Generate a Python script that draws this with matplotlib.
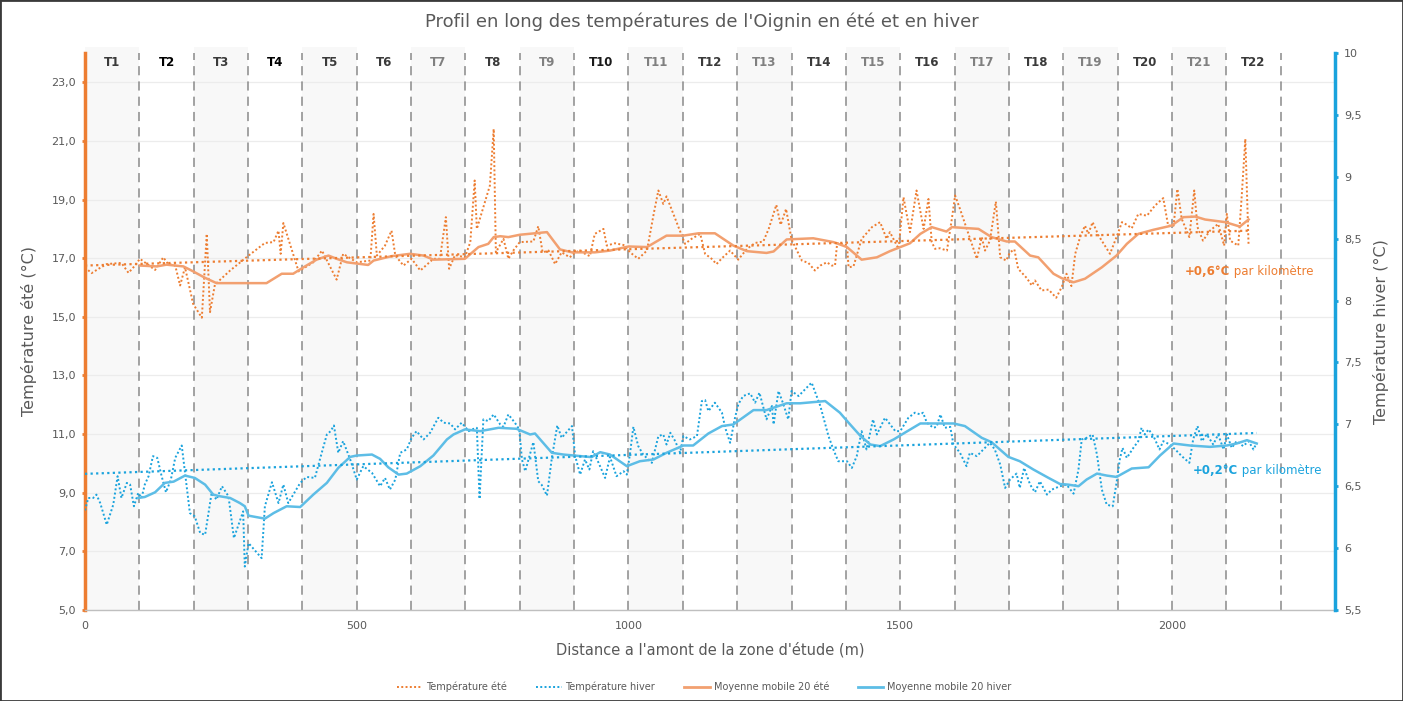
import numpy as np
import matplotlib
matplotlib.use("Agg")
import matplotlib.pyplot as plt
from matplotlib.lines import Line2D
from matplotlib.patches import Rectangle

# ---------------- DATA ----------------
# Summer temperature (°C, left axis)
summer_x = [0, 12, 25, 40, 67, 80, 92, 101, 129, 144, 153, 166, 175, 184, 199, 215, 224, 230, 239,
            267, 301, 331, 347, 356, 360, 365, 393, 420, 436, 463, 475, 500, 525, 531, 537, 552, 564,
            571, 586, 601, 617, 641, 653, 664, 670, 681, 699, 709, 717, 721, 745, 752, 756,
            770, 779, 788, 800, 825, 834, 842, 853, 865, 877, 892, 902, 911, 920, 929, 938, 954,
            960, 975, 991, 1003, 1018, 1034, 1047, 1055, 1064, 1070, 1098, 1104, 1116, 1132, 1141,
            1153, 1162, 1172, 1187, 1202, 1218, 1233, 1248, 1258, 1272, 1280, 1290, 1300, 1319,
            1331, 1343, 1353, 1365, 1374, 1380, 1384, 1402, 1405, 1414, 1429, 1448, 1463, 1475,
            1481, 1497, 1506, 1518, 1530,
            1543, 1552, 1558, 1564, 1573, 1586, 1595, 1601, 1610, 1641, 1650, 1656, 1665, 1676,
            1684, 1695, 1702, 1710, 1717, 1733, 1742, 1748, 1760, 1773, 1787, 1797, 1806, 1815,
            1822, 1831, 1840, 1846, 1854, 1865, 1886, 1898, 1908, 1917, 1926, 1938, 1954, 1969,
            1984, 1993, 2003, 2010, 2018, 2032, 2041, 2047, 2057, 2070, 2085, 2096, 2101, 2107,
            2122, 2128, 2135, 2141]
summer_t = [16.69, 16.49, 16.64, 16.80, 16.84, 16.50, 16.75, 16.98, 16.60, 17.03, 16.80, 16.75, 16.07,
            16.69, 15.44, 14.97, 17.83, 15.16, 16.10, 16.58, 17.09, 17.52, 17.55, 17.94, 17.15,
            18.20, 16.55, 16.86, 17.26, 16.27, 17.15, 16.86, 16.92, 18.51, 17.09, 17.43, 17.94,
            17.09, 16.75, 16.98, 16.58, 16.98, 16.98, 18.40, 16.64, 17.11, 17.03, 17.55, 19.65,
            18.00, 19.48, 21.41, 17.20,
            17.66, 16.98, 17.26, 17.55, 17.57, 18.09, 17.20, 17.26, 16.80, 17.20, 17.03, 17.20,
            17.26, 17.15, 17.07, 17.83, 18.00, 17.43, 17.51, 17.45, 17.20, 16.98, 17.26, 18.57,
            19.31, 18.85, 19.11, 17.77, 17.49, 17.66, 17.83, 17.15, 16.98, 16.80, 17.00, 17.26,
            16.95, 17.32, 17.52, 17.57, 18.00, 18.82, 18.14, 18.68, 17.64, 16.92, 16.84, 16.58,
            16.75, 16.86, 16.75, 16.75, 17.52, 17.45, 16.69, 16.72, 17.66, 18.06, 18.23, 17.66,
            17.89, 17.32, 19.08, 17.89, 19.31,
            18.00, 19.02, 17.55, 17.32, 17.34, 17.26, 18.34, 19.14, 18.68, 16.98, 17.72, 17.26,
            17.60, 18.93, 17.03, 16.92, 17.20, 17.30, 16.64, 16.32, 16.07, 16.24, 15.90, 15.93,
            15.65, 16.01, 16.47, 16.05, 17.15, 17.72, 18.11, 17.83, 18.23, 17.77, 17.15, 17.72,
            18.23, 18.14, 18.02, 18.51, 18.45, 18.80, 19.05, 18.11, 18.11, 19.36, 18.34, 17.72,
            19.31, 18.06, 17.60, 17.94, 18.17, 17.43, 18.51, 17.60, 17.43, 19.02, 21.07, 17.43]

# Summer moving average (20)
summer_ma_x = [101, 132, 150, 181, 196, 221, 242, 334, 362, 383, 402, 426, 448, 463, 482, 521, 531,
               564, 598, 623, 641, 699, 724, 742, 752, 764, 779, 800, 850, 874, 896, 938, 966, 1000,
               1034, 1070, 1101, 1129, 1159, 1193, 1218, 1254, 1267, 1291, 1340, 1377, 1402, 1429,
               1457, 1481, 1518, 1537, 1558, 1585, 1595, 1644, 1668, 1696, 1711, 1739, 1754, 1782,
               1797, 1819, 1840, 1871, 1898, 1917, 1938, 1966, 1999, 2021, 2043, 2061, 2098, 2125,
               2141]
summer_ma_t = [16.75, 16.72, 16.78, 16.72, 16.58, 16.33, 16.15, 16.15, 16.47, 16.47, 16.69, 16.95,
               17.09, 16.98, 16.86, 16.77, 16.92, 17.07, 17.15, 17.09, 16.95, 16.98, 17.38, 17.49,
               17.72, 17.75, 17.72, 17.80, 17.89, 17.30, 17.20, 17.20, 17.26, 17.40, 17.38, 17.77,
               17.77, 17.85, 17.85, 17.43, 17.24, 17.18, 17.23, 17.64, 17.68, 17.55, 17.38, 16.95,
               17.03, 17.24, 17.51, 17.83, 18.06, 17.91, 18.06, 18.00, 17.72, 17.57, 17.57, 17.09,
               17.03, 16.47, 16.32, 16.18, 16.30, 16.69, 17.09, 17.49, 17.83, 17.97, 18.11, 18.40,
               18.42, 18.32, 18.23, 18.08, 18.32]

# Summer linear trend (start / end)
summer_trend_x = [0, 2141]
summer_trend_t = [16.75, 17.94]

# Winter temperature (°C, right axis)
winter_x = [0, 6, 15, 21, 28, 40, 52, 60, 67, 77, 83, 90, 98, 104, 110, 117, 125, 133, 141, 149, 158,
            166, 178, 184, 193, 202, 212, 221, 233, 242, 252, 264, 274, 291, 294, 301, 325, 331, 344,
            356, 365, 374, 396, 408, 423, 433, 445, 452, 458, 466, 475, 488, 500, 512, 528, 543, 552,
            561, 571, 580, 592, 601, 610, 623, 635, 650, 660, 672, 681, 693, 706, 712, 721, 726, 733,
            742, 752, 764,
            770, 779, 791, 799, 804, 810, 816, 825, 834, 840, 850, 859, 869, 877, 896, 902, 911, 920,
            928, 935, 945, 957, 966, 978, 991, 997, 1003, 1009, 1018, 1027, 1043, 1055, 1064, 1070,
            1077, 1086, 1095, 1101, 1113, 1126, 1135, 1141, 1147, 1159, 1172, 1178, 1187, 1196, 1202,
            1211, 1224, 1233, 1241, 1254, 1264, 1267, 1276, 1284, 1294, 1300, 1313, 1337, 1353, 1368,
            1377, 1386, 1402, 1411, 1420, 1429, 1438, 1450, 1457, 1472, 1491, 1500, 1515, 1527, 1537,
            1542, 1549, 1561, 1567, 1574, 1582, 1592, 1598, 1610, 1622, 1628, 1641, 1656, 1665, 1674,
            1684, 1693, 1702, 1714, 1720, 1728, 1739, 1748, 1757, 1770, 1779, 1794, 1806, 1819, 1828,
            1834, 1843, 1854, 1862, 1871, 1880, 1891, 1898, 1904, 1909, 1917, 1929, 1938, 1944, 1950,
            1957, 1966, 1977, 1984, 1996, 2006, 2018, 2032, 2039, 2047, 2055, 2064, 2076, 2085, 2095,
            2101, 2110, 2119, 2131, 2141, 2150, 2156]
winter_t = [6.305, 6.405, 6.405, 6.432, 6.364, 6.189, 6.351, 6.581, 6.405, 6.527, 6.513, 6.338, 6.446,
            6.405, 6.513, 6.581, 6.743, 6.729, 6.581, 6.451, 6.554, 6.729, 6.829, 6.608, 6.283,
            6.256, 6.121, 6.108, 6.446, 6.392, 6.500, 6.419, 6.081, 6.297, 5.851, 6.040, 5.919,
            6.338, 6.532, 6.364, 6.513, 6.364, 6.527, 6.575, 6.567, 6.729, 6.918, 6.945, 6.991,
            6.770, 6.864, 6.716, 6.554, 6.662, 6.608, 6.500, 6.567, 6.473, 6.554, 6.770, 6.797,
            6.891, 6.945, 6.878, 6.932, 7.053, 7.013, 7.007, 6.959, 7.013, 6.945, 6.959, 6.972,
            6.397, 7.040, 7.026, 7.080, 6.999,
            6.980, 7.080, 7.013, 6.959, 6.716, 6.621, 6.716, 6.856, 6.540, 6.513, 6.424, 6.729,
            6.991, 6.891, 6.986, 6.743, 6.594, 6.716, 6.635, 6.783, 6.689, 6.567, 6.737, 6.581,
            6.621, 6.594, 6.770, 6.980, 6.824, 6.756, 6.689, 6.905, 6.918, 6.837, 6.932, 6.864,
            6.770, 6.905, 6.878, 6.905, 7.188, 7.196, 7.107, 7.175, 7.094, 6.972, 6.851, 7.053,
            7.161, 7.229, 7.250, 7.175, 7.256, 7.040, 7.148, 6.999, 7.269, 7.175, 7.040, 7.269,
            7.229, 7.337, 7.148, 6.905, 6.797, 6.702, 6.702, 6.648, 6.743, 6.945, 6.797, 7.040,
            6.918, 7.053, 6.945, 6.945, 7.053, 7.094, 7.080,
            7.094, 7.013, 6.972, 6.980, 7.080, 6.972, 6.980, 6.837, 6.770, 6.662, 6.770, 6.743,
            6.810, 6.851, 6.797, 6.675, 6.486, 6.554, 6.602, 6.486, 6.648, 6.513, 6.451, 6.540,
            6.432, 6.473, 6.500, 6.513, 6.440, 6.635, 6.878, 6.891, 6.918, 6.756, 6.473, 6.351,
            6.338, 6.527, 6.716, 6.810, 6.729, 6.810, 6.864, 6.972, 6.918, 6.959, 6.905, 6.797,
            6.864, 6.837, 6.797, 6.743, 6.689, 6.878, 6.986, 6.864, 6.918, 6.837, 6.918, 6.797,
            6.918, 6.810, 6.864, 6.824, 6.864, 6.797, 6.851]

# Winter moving average (20)
winter_ma_x = [98, 110, 129, 147, 163, 184, 202, 221, 236, 248, 267, 285, 294, 301, 331, 347, 371, 396,
               420, 445, 466, 488, 500, 528, 543, 558, 577, 592, 617, 641, 666, 678, 699, 727, 761,
               794, 819, 828, 859, 880, 932, 948, 966, 997, 1021, 1046, 1070, 1101, 1119, 1147, 1172,
               1193, 1230, 1254, 1291, 1316, 1362, 1389, 1405, 1426, 1445, 1463, 1488, 1506, 1537,
               1598, 1619, 1650, 1668, 1699, 1720, 1745, 1773, 1794, 1809, 1828, 1843, 1862, 1880,
               1898, 1926, 1957, 1978, 2003, 2033, 2070, 2101, 2119, 2138, 2156]
winter_ma_t = [6.405, 6.413, 6.451, 6.527, 6.537, 6.586, 6.567, 6.513, 6.432, 6.419, 6.405, 6.364,
               6.338, 6.262, 6.238, 6.283, 6.338, 6.332, 6.432, 6.527, 6.648, 6.737, 6.748, 6.756,
               6.721, 6.653, 6.594, 6.602, 6.662, 6.748, 6.878, 6.918, 6.959, 6.945, 6.972,
               6.964, 6.918, 6.926, 6.770, 6.756, 6.735, 6.775, 6.756, 6.662, 6.702, 6.716, 6.770,
               6.829, 6.829, 6.926, 6.986, 6.999, 7.115, 7.115, 7.170, 7.170, 7.188, 7.094, 7.013,
               6.910, 6.837, 6.824, 6.878, 6.926, 7.007, 7.007, 6.986, 6.891, 6.856, 6.737, 6.702,
               6.635, 6.567, 6.518, 6.513, 6.500, 6.554, 6.602, 6.586, 6.575, 6.643, 6.653, 6.748,
               6.845, 6.829, 6.818, 6.829, 6.845, 6.872, 6.845]

# Winter linear trend (start / end)
winter_trend_x = [0, 2156]
winter_trend_t = [6.60, 6.93]

# Sections
section_labels = [f"T{i}" for i in range(1, 23)]
section_starts = list(range(0, 2200, 100))
section_colors = ["#3a3a3a", "#000000", "#3a3a3a", "#000000", "#3a3a3a", "#3a3a3a", "#808080",
                  "#3a3a3a", "#808080", "#1a1a1a", "#808080", "#3a3a3a", "#808080", "#3a3a3a",
                  "#808080", "#3a3a3a", "#808080", "#3a3a3a", "#808080", "#3a3a3a", "#808080",
                  "#3a3a3a"]

left_ticks = [5, 7, 9, 11, 13, 15, 17, 19, 21, 23]
right_ticks = [5.5, 6, 6.5, 7, 7.5, 8, 8.5, 9, 9.5, 10]
x_ticks = [0, 500, 1000, 1500, 2000]

# ---------------- STYLE ----------------
ORANGE = "#ED7D31"
ORANGE_MA = "#F2A070"
BLUE = "#1AA3DD"
BLUE_MA = "#5DBDE6"
GRAY_TXT = "#595959"

plt.rcParams['font.family'] = ['DejaVu Sans']

fig = plt.figure(figsize=(14.03, 7.01), dpi=100)
ax = fig.add_axes([85 / 1403, 1 - 610 / 701, (1335 - 85) / 1403, (610 - 53) / 701])
ax2 = ax.twinx()

ax.set_xlim(0, 2300)
ax.set_ylim(5, 24)
ax2.set_ylim(5.5, 10)

# Bands, dashed separators, section labels
for i, (s, lab, col) in enumerate(zip(section_starts, section_labels, section_colors)):
    if i % 2 == 0:
        ax.axvspan(s, s + 100, ymin=0, ymax=1.01, color="#f8f8f8", zorder=0, lw=0, clip_on=False)
    ax.axvline(s + 100, color="#8a8a8a", lw=1.1, ls=(0, (6, 4)), zorder=1)
    ax.text(s + 50, 0.983, lab, transform=ax.get_xaxis_transform(), ha="center", va="center",
            fontsize=8.5, fontweight="bold", color=col, zorder=3)

# Grid
for v in left_ticks:
    ax.axhline(v, color="#ececec", lw=0.9, zorder=0.5)

# Summer
ax.plot(summer_x, summer_t, color=ORANGE, lw=1.4, ls=(0, (1, 1.2)), zorder=4)
ax.plot(summer_ma_x, summer_ma_t, color=ORANGE_MA, lw=1.8, zorder=4)
ax.plot(summer_trend_x, summer_trend_t, color=ORANGE, lw=1.6, ls=(0, (1, 1.5)), zorder=4)

# Winter
ax2.plot(winter_x, winter_t, color=BLUE, lw=1.4, ls=(0, (1, 1.2)), zorder=4)
ax2.plot(winter_ma_x, winter_ma_t, color=BLUE_MA, lw=1.8, zorder=4)
ax2.plot(winter_trend_x, winter_trend_t, color=BLUE, lw=1.6, ls=(0, (1, 1.5)), zorder=4)

# Annotations
t1 = ax.text(2024, 16.55, "+0,6°C", color=ORANGE, fontsize=8.5, fontweight="bold",
             va="center", ha="left", zorder=5)
ax.annotate(" par kilomètre", xy=(1, 0.5), xycoords=t1, va="center", ha="left",
            color=ORANGE, fontsize=8.5, zorder=5)
t2 = ax.text(2039, 9.75, "+0,2°C", color=BLUE, fontsize=8.5, fontweight="bold",
             va="center", ha="left", zorder=5)
ax.annotate(" par kilomètre", xy=(1, 0.5), xycoords=t2, va="center", ha="left",
            color=BLUE, fontsize=8.5, zorder=5)

# Axes styling
ax.set_yticks(left_ticks)
ax.set_yticklabels([f"{v:.1f}".replace(".", ",") for v in left_ticks])
ax2.set_yticks(right_ticks)
ax2.set_yticklabels([(f"{v:g}").replace(".", ",") for v in right_ticks])
ax.set_xticks(x_ticks)
ax.set_xticklabels([str(v) for v in x_ticks])

ax.tick_params(axis="y", colors=ORANGE, labelcolor=GRAY_TXT, labelsize=8, length=2.5, width=2,
               direction="out", pad=4)
ax2.tick_params(axis="y", colors=BLUE, labelcolor=GRAY_TXT, labelsize=8, length=2.5, width=2,
                direction="out", pad=4)
ax.tick_params(axis="x", length=0, labelsize=8, labelcolor=GRAY_TXT, pad=8)

for a in (ax, ax2):
    a.spines["top"].set_visible(False)
ax.spines["left"].set_color(ORANGE)
ax.spines["left"].set_linewidth(2.5)
ax.spines["right"].set_visible(False)
ax2.spines["left"].set_visible(False)
ax2.spines["bottom"].set_visible(False)
ax2.spines["right"].set_color(BLUE)
ax2.spines["right"].set_linewidth(2.5)
ax.spines["bottom"].set_color("#bfbfbf")
ax.spines["bottom"].set_linewidth(1)

ax.set_ylabel("Température été (°C)", fontsize=11.5, color=GRAY_TXT, labelpad=10)
ax2.set_ylabel("Température hiver (°C)", fontsize=11.5, color=GRAY_TXT, labelpad=8)
ax.set_xlabel("Distance a l'amont de la zone d'étude (m)", fontsize=10.5, color=GRAY_TXT,
              labelpad=8)

fig.text(0.5, 1 - 22 / 701, "Profil en long des températures de l'Oignin en été et en hiver",
         ha="center", va="center", fontsize=13, color=GRAY_TXT)

# Legend
handles = [
    Line2D([], [], color=ORANGE, lw=1.4, ls=(0, (1, 1.2))),
    Line2D([], [], color=BLUE, lw=1.4, ls=(0, (1, 1.2))),
    Line2D([], [], color=ORANGE_MA, lw=2),
    Line2D([], [], color=BLUE_MA, lw=2),
]
labels = ["Température été", "Température hiver", "Moyenne mobile 20 été", "Moyenne mobile 20 hiver"]
fig.legend(handles, labels, loc="center", bbox_to_anchor=(0.502, 1 - 687 / 701), ncol=4,
           frameon=False, fontsize=7, handlelength=2.6, columnspacing=3.0, handletextpad=0.4,
           labelcolor=GRAY_TXT)

# Outer frame
fig.patches.append(Rectangle((0, 0), 1, 1, transform=fig.transFigure, fill=False,
                             edgecolor="#3a3a3a", lw=2))

fig.savefig("out.png", dpi=100)
